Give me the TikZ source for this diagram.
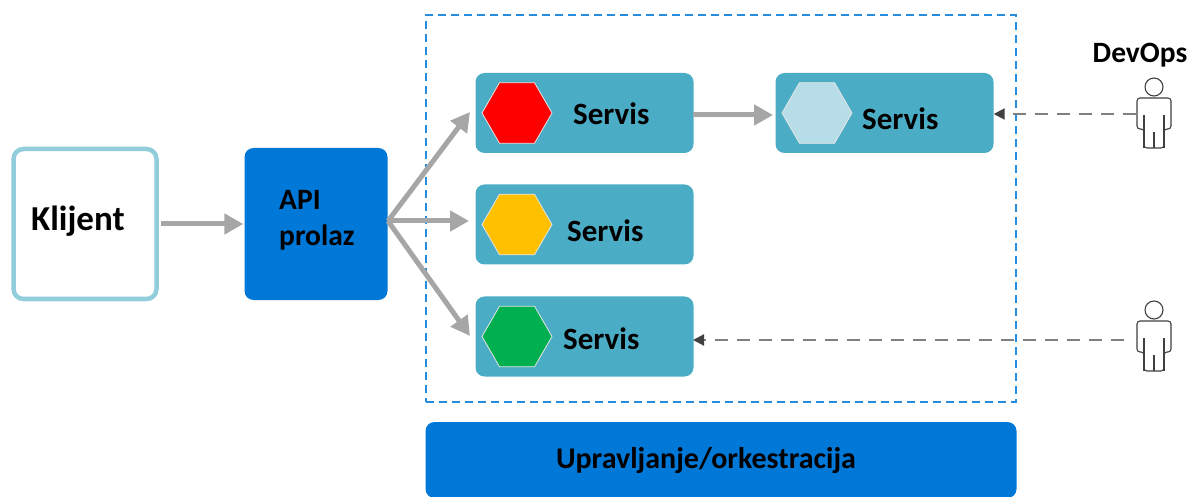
\documentclass[tikz,border=0pt]{standalone}
\usepackage{fontspec}
\setmainfont{Carlito}
\usetikzlibrary{shapes.geometric,arrows.meta}
\definecolor{svc}{HTML}{4BACC6}
\definecolor{blu}{HTML}{0078D7}
\definecolor{lblu}{HTML}{92CDDC}
\definecolor{gry}{HTML}{A6A6A6}
\definecolor{dgry}{HTML}{7F7F7F}
\definecolor{pers}{HTML}{404040}
\definecolor{hexred}{HTML}{FF0000}
\definecolor{hexamber}{HTML}{FFC000}
\definecolor{hexgreen}{HTML}{00B050}
\definecolor{hexpale}{HTML}{B7DEE8}
\tikzset{
  x=1pt,y=-1pt,
  svcbox/.style={draw=none,fill=svc,rounded corners=9pt,minimum width=218pt,minimum height=80pt,inner sep=0pt},
  hexa/.style={regular polygon,regular polygon sides=6,minimum size=70pt,inner sep=0pt,draw=white!80!gray,line width=0.8pt,fill=#1},
  lbl/.style={font=\bfseries\fontsize{#1}{#1}\selectfont,text=black,inner sep=0pt},
  thick arrow/.style={draw=gry,line width=5pt,-{Triangle[length=19pt,width=20pt]}},
  dash arrow/.style={draw=dgry,line width=2pt,dash pattern=on 13pt off 9pt,-{Triangle[length=11pt,width=11pt,color=pers]}},
  personmark/.pic={
    \draw[pers,line width=1.1pt,fill=white] (0,-27) circle (9);
    \draw[pers,line width=1.1pt,fill=white,rounded corners=3pt]
      (-10,34) -- (-10,15) -- (-17,15) -- (-17,-16) -- (17,-16) -- (17,15) -- (10,15) -- (10,34) -- cycle;
    \draw[pers,line width=1.1pt] (-10,1) -- (-10,34) (10,1) -- (10,34) (0,18) -- (0,34);
  }
}
\begin{document}
\begin{tikzpicture}
\useasboundingbox (0,0) rectangle (1192,497);
% orchestration frame
\node[draw=blu!85!white,line width=2.2pt,dash pattern=on 8pt off 5pt,minimum width=590pt,minimum height=387pt,inner sep=0pt] (frame) at (721,208.5) {};
\node[fill=blu,rounded corners=9pt,minimum width=591pt,minimum height=76pt,inner sep=0pt] (orch) at (721,460) {};
\node[lbl=30] (orchtxt) at (706,461) {Upravljanje/orkestracija};
% client and gateway
\node[draw=lblu,line width=4.5pt,fill=white,rounded corners=10pt,minimum width=143pt,minimum height=150pt,inner sep=0pt] (client) at (85,224) {};
\node[lbl=35,anchor=west] (clienttxt) at (31,221) {Klijent};
\node[fill=blu,rounded corners=9pt,minimum width=143pt,minimum height=152pt,inner sep=0pt] (api) at (316,224) {};
\node[lbl=29.5,anchor=west] (apitxt1) at (279,200) {API};
\node[lbl=29.5,anchor=west] (apitxt2) at (279,237) {prolaz};
% services
\node[svcbox] (s1) at (584.5,113) {};
\node[svcbox] (s2) at (584.5,224.5) {};
\node[svcbox] (s3) at (584.5,336.5) {};
\node[svcbox] (s4) at (884.5,113) {};
\node[hexa=hexred] (h1) at (517,113) {};
\node[hexa=hexamber] (h2) at (517,224.5) {};
\node[hexa=hexgreen] (h3) at (517,336.5) {};
\node[hexa=hexpale] (h4) at (817,113) {};
\node[lbl=31,anchor=west] (t1) at (573,114) {Servis};
\node[lbl=31,anchor=west] (t2) at (567,231) {Servis};
\node[lbl=31,anchor=west] (t3) at (563,339) {Servis};
\node[lbl=31,anchor=west] (t4) at (862,119) {Servis};
% people
\node[minimum width=34pt,minimum height=1pt,inner sep=0pt] (p1) at (1154,114) {};
\pic at (p1) {personmark};
\node[minimum width=34pt,minimum height=1pt,inner sep=0pt] (p2) at (1154,337) {};
\pic at (p2) {personmark};
\node[lbl=29.5] (devops) at (1140,55) {DevOps};
\coordinate (c3) at (1124,340);
\coordinate (e3) at (693,340);
\coordinate (fan) at (388,221);
\coordinate (a1) at (470,112);
\coordinate (a2) at (469,221);
\coordinate (a3) at (470,336);
\coordinate (b1) at (693,115);
\coordinate (b2) at (773,115);
% connectors
\draw[thick arrow,shorten <=2.5pt,shorten >=1pt] (client.east) -- (api.west);
\draw[thick arrow] (fan) -- (a1);
\draw[thick arrow] (fan) -- (a2);
\draw[thick arrow] (fan) -- (a3);
\draw[thick arrow] (b1) -- (b2);
\draw[dash arrow,shorten <=1pt] (p1.west) -- (p1.west -| s4.east);
\draw[dash arrow] (c3) -- (e3);
\end{tikzpicture}
\end{document}
